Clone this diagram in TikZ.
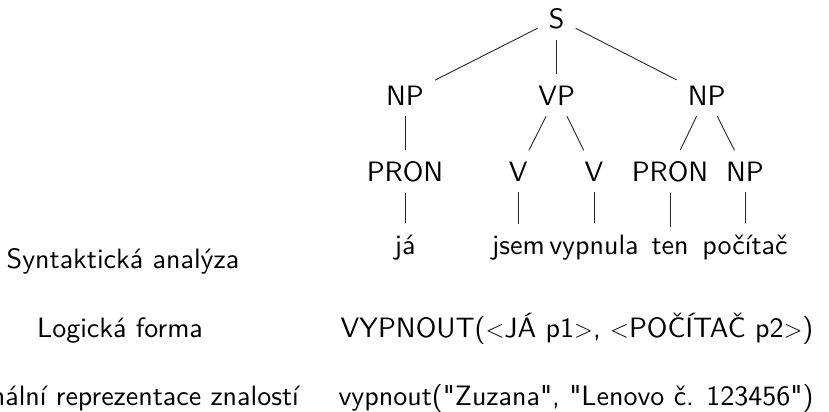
\documentclass[tikz,border=0pt]{standalone}
\usepackage{fontspec}
\newfontfamily\tsf{lmsans10-regular.otf}
\begin{document}
\begin{tikzpicture}[x=1bp,y=-1bp,
  every node/.style={font=\tsf\fontsize{28bp}{34bp}\selectfont},
  tn/.style={inner sep=11bp, anchor=base},
  lbl/.style={inner sep=0pt, anchor=base},
  br/.style={line width=0.9bp, black!85}]
\useasboundingbox (0,0) rectangle (829,411);
\clip (0,0) rectangle (829,411);
% tree
\node[tn] (S) at (556.7,28.3) {S};
\node[tn] (NPa) at (405,105) {NP};
\node[tn] (VP) at (556.7,105) {VP};
\node[tn] (NPb) at (706.7,105) {NP};
\node[tn] (PRONa) at (405,181) {PRON};
\node[tn] (Va) at (518.3,181) {V};
\node[tn] (Vb) at (594,181) {V};
\node[tn] (PRONb) at (670,181) {PRON};
\node[tn] (NPc) at (745,181) {NP};
\node[tn] (ja) at (405,254) {já};
\node[tn] (jsem) at (518.3,254) {jsem};
\node[tn] (vypnula) at (594,254) {vypnula};
\node[tn] (ten) at (670,254) {ten};
\node[tn] (pocitac) at (745,254) {počítač};
\draw[br] (S) -- (NPa);
\draw[br] (S) -- (VP);
\draw[br] (S) -- (NPb);
\draw[br] (NPa) -- (PRONa);
\draw[br] (VP) -- (Va);
\draw[br] (VP) -- (Vb);
\draw[br] (NPb) -- (PRONb);
\draw[br] (NPb) -- (NPc);
\draw[br] (PRONa) -- (ja);
\draw[br] (Va) -- (jsem);
\draw[br] (Vb) -- (vypnula);
\draw[br] (PRONb) -- (ten);
\draw[br] (NPc) -- (pocitac);
% rows
\node[lbl] (l1) at (123,268) {Syntaktická analýza};
\node[lbl] (l2) at (120,337) {Logická forma};
\node[lbl] (l3) at (122,405.5) {Formální reprezentace znalostí};
\node[lbl] (r2) at (577,337) {VYPNOUT($<$JÁ p1$>$, $<$POČÍTAČ p2$>$)};
\node[lbl] (r3) at (576,405.5) {vypnout("Zuzana", "Lenovo č. 123456")};
\end{tikzpicture}
\end{document}
